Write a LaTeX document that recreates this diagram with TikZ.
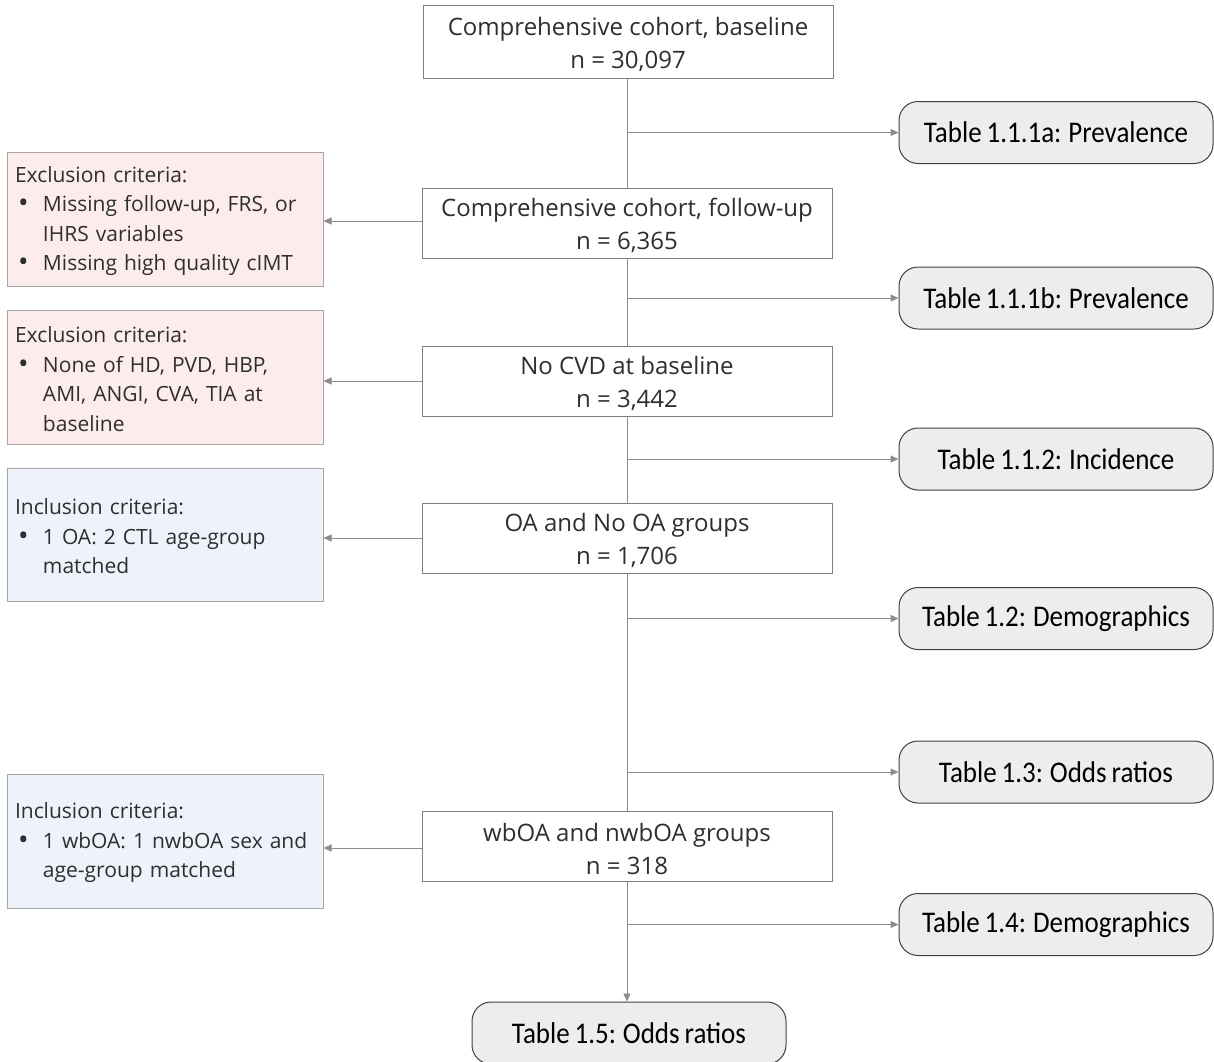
\documentclass[tikz,border=0pt]{standalone}
\usepackage{fontspec}
\setmainfont{Open Sans}
\newfontfamily\tabf[FakeStretch=0.9,WordSpace=0.8]{Carlito}
\usetikzlibrary{arrows.meta}
\definecolor{linec}{HTML}{8C8C8C}
\definecolor{boxc}{HTML}{7F7F7F}
\definecolor{txtc}{HTML}{2E2E2E}
\definecolor{pinkf}{HTML}{FCEDEC}
\definecolor{bluef}{HTML}{EEF3FB}
\definecolor{critb}{HTML}{A6A6A6}
\definecolor{tabf}{HTML}{EDEDED}
\definecolor{tabb}{HTML}{404040}
\tikzset{
  mainbox/.style={draw=boxc, fill=white, line width=1pt, minimum width=410, minimum height=70,
    inner sep=0pt, align=center, text=txtc, font=\fontsize{24}{33}\selectfont},
  critbox/.style={draw=critb, line width=1pt, minimum width=316, minimum height=134,
    text width=300, inner xsep=8pt, inner ysep=0pt, align=left, text=txtc,
    font=\fontsize{21}{29.5}\selectfont},
  exclbox/.style={critbox, fill=pinkf},
  inclbox/.style={critbox, fill=bluef},
  tabbox/.style={draw=tabb, fill=tabf, line width=1pt, rounded corners=19, minimum width=314,
    minimum height=62, inner sep=0pt, text=black, font=\tabf\fontsize{30}{34}\selectfont},
  conn/.style={draw=linec, line width=1pt},
  arr/.style={conn, -{Triangle[length=8pt,width=7pt]}}
}
\newcommand{\bul}{\rule{0pt}{20pt}\hspace*{3pt}\makebox[25pt][l]{\raisebox{-1pt}{\fontsize{28}{29.5}\selectfont •}}}
\newcommand{\ind}{\hspace*{28pt}}
\newcommand{\fl}{\rule{0pt}{24pt}}
\begin{document}
\begin{tikzpicture}[x=1pt,y=-1pt]
\useasboundingbox (0,0) rectangle (1214,1061);
% main flow
\node[mainbox, minimum height=73] (m1) at (628,41.5) {\fl Comprehensive cohort, baseline\\n = 30,097};
\node[mainbox] (m2) at (627,223) {\fl Comprehensive cohort, follow-up\\n = 6,365};
\node[mainbox] (m3) at (627,381) {\fl No CVD at baseline\\n = 3,442};
\node[mainbox] (m4) at (627,538) {\fl OA and No OA groups\\n = 1,706};
\node[mainbox] (m5) at (627,846) {\fl wbOA and nwbOA groups\\n = 318};
% criteria
\node[exclbox] (e1) at (165,219) {\rule{0pt}{20pt}Exclusion criteria:\\\bul Missing follow-up, FRS, or\\\ind IHRS variables\\\bul Missing high quality cIMT};
\node[exclbox] (e2) at (165,377) {\rule{0pt}{20pt}Exclusion criteria:\\\bul None of HD, PVD, HBP,\\\ind AMI, ANGI, CVA, TIA at\\\ind baseline};
\node[inclbox, minimum height=133] (i1) at (165,534.5) {\rule{0pt}{20pt}Inclusion criteria:\\\bul 1 OA: 2 CTL age-group\\\ind matched};
\node[inclbox] (i2) at (165,841) {\rule{0pt}{20pt}Inclusion criteria:\\\bul 1 wbOA: 1 nwbOA sex and\\\ind age-group matched};
% tables
\node[tabbox] (t1) at (1056,132.5) {Table 1.1.1a: Prevalence};
\node[tabbox] (t2) at (1056,298) {Table 1.1.1b: Prevalence};
\node[tabbox] (t3) at (1056,459) {Table 1.1.2: Incidence};
\node[tabbox] (t4) at (1056,618.5) {Table 1.2: Demographics};
\node[tabbox] (t5) at (1056,772) {Table 1.3: Odds ratios};
\node[tabbox] (t6) at (1056,924.5) {Table 1.4: Demographics};
\node[tabbox] (t7) at (629,1033) {Table 1.5: Odds ratios};
% vertical spine
\draw[conn] (m1.south -| m2.north) -- (m2.north);
\draw[conn] (m2.south) -- (m3.north);
\draw[conn] (m3.south) -- (m4.north);
\draw[conn] (m4.south) -- (m5.north);
\draw[arr] (m5.south) -- (m5.south |- t7.north);
% branch points
\coordinate (c1) at (m2.north |- t1.west);
\coordinate (c2) at (m2.north |- t2.west);
\coordinate (c3) at (m2.north |- t3.west);
\coordinate (c4) at (m2.north |- t4.west);
\coordinate (c5) at (m2.north |- t5.west);
\coordinate (c6) at (m2.north |- t6.west);
\draw[arr] (c1) -- (t1.west);
\draw[arr] (c2) -- (t2.west);
\draw[arr] (c3) -- (t3.west);
\draw[arr] (c4) -- (t4.west);
\draw[arr] (c5) -- (t5.west);
\draw[arr] (c6) -- (t6.west);
% side arrows
\draw[arr] ([yshift=2]m2.west) -- ([yshift=2]m2.west -| e1.east);
\draw[arr] (m3.west) -- (m3.west -| e2.east);
\draw[arr] (m4.west) -- (m4.west -| i1.east);
\draw[arr] ([yshift=-2]m5.west) -- ([yshift=-2]m5.west -| i2.east);
\end{tikzpicture}
\end{document}
